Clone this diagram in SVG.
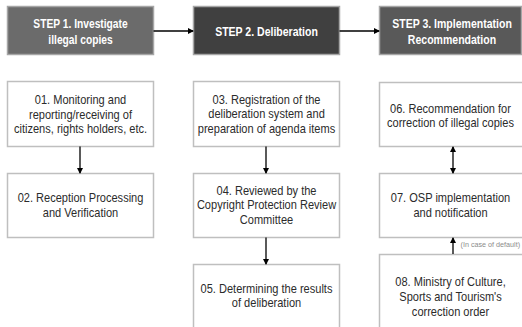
<svg xmlns="http://www.w3.org/2000/svg" width="522" height="327" viewBox="0 0 522 327">
<style>
.hd{stroke:#a6a6a6;stroke-width:1.5}
.bx{fill:#ffffff;stroke:#bfbfbf;stroke-width:1.5}
.ht{font-family:"Liberation Sans",Arial,sans-serif;font-weight:bold;font-size:13.5px;fill:#ffffff;text-anchor:middle}
.t{font-family:"Liberation Sans",Arial,sans-serif;font-size:13px;fill:#2b2b2b;text-anchor:middle}
.s{font-family:"Liberation Sans",Arial,sans-serif;font-size:7.2px;fill:#8c8c8c}
.c{stroke:#000000;stroke-width:1.3;fill:none}
</style>
<defs>
<marker id="ah" markerWidth="6" markerHeight="6" refX="5" refY="3" orient="auto" markerUnits="userSpaceOnUse">
<path d="M0,0 L6,3 L0,6 z" fill="#000000"/>
</marker>
<marker id="as" markerWidth="6" markerHeight="6" refX="1" refY="3" orient="auto" markerUnits="userSpaceOnUse">
<path d="M6,0 L0,3 L6,6 z" fill="#000000"/>
</marker>
</defs>
<rect width="522" height="327" fill="#ffffff"/>
<g id="step1">
<rect class="hd" x="7.5" y="6.5" width="146" height="48" fill="#6b6b6b"/>
<g transform="translate(80.5,0) scale(0.76,1)">
<text class="ht" x="0" y="28.5">STEP 1. Investigate</text>
<text class="ht" x="0" y="44">illegal copies</text>
</g>
</g>
<g id="step2">
<rect class="hd" x="193.5" y="6.5" width="146" height="48" fill="#404040"/>
<g transform="translate(266.5,0) scale(0.78,1)">
<text class="ht" x="0" y="36">STEP 2. Deliberation</text>
</g>
</g>
<g id="step3">
<rect class="hd" x="379.5" y="6.5" width="142" height="48" fill="#595959"/>
<g transform="translate(452,0) scale(0.78,1)">
<text class="ht" x="0" y="28.5">STEP 3. Implementation</text>
<text class="ht" x="0" y="44">Recommendation</text>
</g>
</g>
<g id="n01">
<rect class="bx" x="7.5" y="81.5" width="146" height="65"/>
<g transform="translate(80.5,0) scale(0.85,1)">
<text class="t" x="0" y="104.5">01. Monitoring and</text>
<text class="t" x="0" y="119">reporting/receiving of</text>
<text class="t" x="0" y="133.5">citizens, rights holders, etc.</text>
</g>
</g>
<g id="n02">
<rect class="bx" x="7.5" y="173.5" width="146" height="64"/>
<g transform="translate(80.5,0) scale(0.85,1)">
<text class="t" x="0" y="202.5">02. Reception Processing</text>
<text class="t" x="0" y="217">and Verification</text>
</g>
</g>
<g id="n03">
<rect class="bx" x="193.5" y="81.5" width="146" height="65"/>
<g transform="translate(266.5,0) scale(0.85,1)">
<text class="t" x="0" y="104">03. Registration of the</text>
<text class="t" x="0" y="118.5">deliberation system and</text>
<text class="t" x="0" y="133">preparation of agenda items</text>
</g>
</g>
<g id="n04">
<rect class="bx" x="193.5" y="173.5" width="146" height="64"/>
<g transform="translate(266.5,0) scale(0.85,1)">
<text class="t" x="0" y="195">04. Reviewed by the</text>
<text class="t" x="0" y="209.5">Copyright Protection Review</text>
<text class="t" x="0" y="224">Committee</text>
</g>
</g>
<g id="n05">
<rect class="bx" x="193.5" y="264.5" width="146" height="70"/>
<g transform="translate(266.5,0) scale(0.85,1)">
<text class="t" x="0" y="293">05. Determining the results</text>
<text class="t" x="0" y="307.5">of deliberation</text>
</g>
</g>
<g id="n06">
<rect class="bx" x="379.5" y="82.5" width="145" height="64"/>
<g transform="translate(450.5,0) scale(0.85,1)">
<text class="t" x="0" y="113">06. Recommendation for</text>
<text class="t" x="0" y="127.5">correction of illegal copies</text>
</g>
</g>
<g id="n07">
<rect class="bx" x="379.5" y="173.5" width="145" height="64"/>
<g transform="translate(450.5,0) scale(0.85,1)">
<text class="t" x="0" y="202.5">07. OSP implementation</text>
<text class="t" x="0" y="217">and notification</text>
</g>
</g>
<g id="n08">
<rect class="bx" x="379.5" y="254.5" width="145" height="80"/>
<g transform="translate(450.5,0) scale(0.85,1)">
<text class="t" x="0" y="286.5">08. Ministry of Culture,</text>
<text class="t" x="0" y="301.5">Sports and Tourism's</text>
<text class="t" x="0" y="316.5">correction order</text>
</g>
</g>
<g id="connectors">
<line class="c" x1="153.5" y1="31" x2="193" y2="31" marker-end="url(#ah)"/>
<line class="c" x1="339.5" y1="31" x2="379" y2="31" marker-end="url(#ah)"/>
<line class="c" x1="80" y1="146.5" x2="80" y2="173" marker-end="url(#ah)"/>
<line class="c" x1="266" y1="146.5" x2="266" y2="173" marker-end="url(#ah)"/>
<line class="c" x1="266" y1="237.5" x2="266" y2="264" marker-end="url(#ah)"/>
<line class="c" x1="453" y1="147" x2="453" y2="173" marker-start="url(#as)" marker-end="url(#ah)"/>
<line class="c" x1="453" y1="254" x2="453" y2="238" marker-end="url(#ah)"/>
<text class="s" x="460.5" y="246.5">(In case of default)</text>
</g>
</svg>
